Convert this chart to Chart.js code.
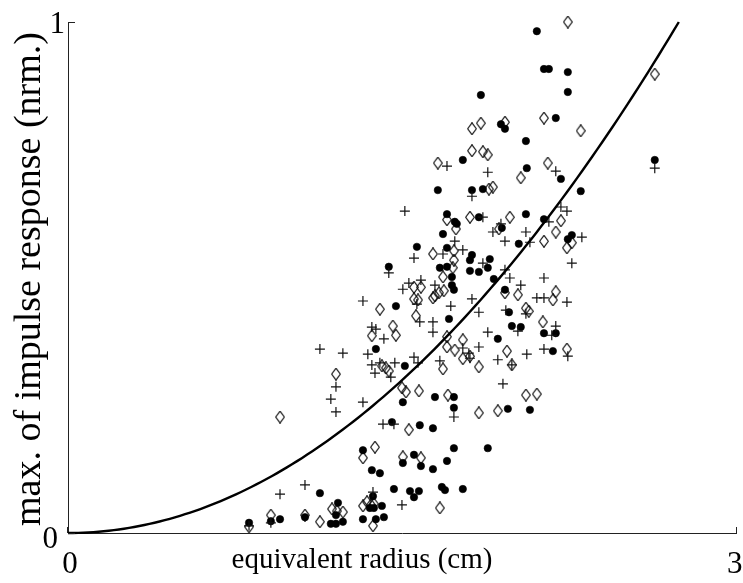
<!DOCTYPE html>
<html>
<head>
<meta charset="utf-8">
<script src="https://cdn.jsdelivr.net/npm/chart.js@4/dist/chart.umd.min.js"></script>
<style>
  html, body { margin: 0; padding: 0; background: #fff; }
  #plot { display: block; }
</style>
</head>
<body>
<canvas id="plot" width="743" height="583"></canvas>
<script>
// Axis ticks and labels
const xTicks = [0, 3];
const yTicks = [0, 1];
const xTitle = 'equivalent radius (cm)';
const yTitle = 'max. of impulse response (nrm.)';

// Filled circles
const dotX = [2.103,2.135,2.157,2.242,2.242,1.852,2.188,1.942,1.960,2.054,
  1.771,2.632,2.058,2.211,1.659,1.812,1.861,2.300,1.700,1.735,
  1.744,1.843,2.054,2.135,1.946,1.682,2.022,2.260,2.242,1.565,
  1.700,1.812,1.803,1.892,1.883,1.668,1.700,1.439,1.803,1.843,
  1.722,1.722,1.910,1.731,1.960,2.031,1.991,1.471,1.709,1.978,
  2.135,2.188,2.175,1.928,1.381,1.511,1.646,1.731,1.502,1.731,
  1.453,1.578,1.637,1.973,2.072,1.323,1.731,1.883,1.363,1.399,
  1.502,1.552,1.583,1.637,1.700,1.130,1.368,1.462,1.534,1.574,
  1.552,1.677,1.691,1.771,1.408,1.354,1.372,1.211,1.202,1.417,
  1.381,1.323,1.179,1.202,1.233,1.063,0.951,0.910,0.812];
const dotY = [0.982,0.908,0.908,0.902,0.863,0.857,0.812,0.800,0.791,0.767,
  0.730,0.730,0.714,0.693,0.671,0.671,0.673,0.669,0.624,0.609,
  0.605,0.618,0.624,0.614,0.597,0.585,0.566,0.583,0.575,0.560,
  0.558,0.544,0.534,0.536,0.519,0.519,0.521,0.521,0.513,0.511,
  0.501,0.485,0.497,0.476,0.476,0.403,0.405,0.444,0.419,0.432,
  0.391,0.391,0.356,0.380,0.360,0.327,0.266,0.266,0.256,0.245,
  0.217,0.211,0.205,0.243,0.241,0.162,0.166,0.166,0.123,0.117,
  0.137,0.153,0.131,0.125,0.141,0.078,0.072,0.086,0.082,0.082,
  0.070,0.090,0.084,0.086,0.053,0.049,0.049,0.059,0.035,0.031,
  0.027,0.027,0.018,0.018,0.022,0.031,0.027,0.023,0.020];

// Open diamonds
const diaX = [2.242,2.632,2.135,1.852,1.812,1.960,2.300,1.812,1.861,1.883,
  1.659,2.152,2.031,1.888,1.906,1.700,1.803,1.982,2.211,1.740,
  1.933,2.188,2.260,2.238,2.135,1.731,1.637,1.731,1.726,1.682,
  1.552,1.583,1.686,1.664,1.646,1.637,1.960,2.018,2.188,2.175,
  1.552,1.570,1.399,1.561,2.054,2.067,2.130,1.457,1.471,1.363,
  1.700,1.700,1.771,1.735,1.803,1.771,1.682,1.843,1.969,1.991,
  2.238,1.408,1.426,1.439,1.202,1.498,1.516,1.574,1.704,1.843,
  1.928,2.054,2.103,1.529,0.951,1.377,1.323,1.502,1.583,1.668,
  1.323,1.341,1.359,1.372,1.184,1.206,1.233,1.130,0.910,1.063,1.368,0.812];
const diaY = [1.000,0.898,0.812,0.802,0.791,0.804,0.787,0.748,0.746,0.740,
  0.724,0.724,0.695,0.673,0.677,0.613,0.618,0.618,0.611,0.595,
  0.595,0.589,0.568,0.558,0.571,0.552,0.546,0.534,0.519,0.501,
  0.481,0.481,0.474,0.470,0.464,0.460,0.470,0.466,0.472,0.456,
  0.458,0.456,0.438,0.425,0.440,0.434,0.413,0.405,0.387,0.386,
  0.384,0.364,0.378,0.358,0.346,0.341,0.321,0.325,0.356,0.329,
  0.360,0.327,0.323,0.317,0.311,0.284,0.276,0.278,0.270,0.235,
  0.239,0.270,0.272,0.202,0.227,0.168,0.147,0.149,0.147,0.049,
  0.053,0.061,0.055,0.057,0.047,0.043,0.041,0.022,0.035,0.035,0.014,0.012];

// Plus markers
const plusX = [2.632,1.700,1.883,2.188,1.812,1.511,1.861,2.211,2.238,2.157,
  1.942,1.906,2.054,2.305,1.735,1.960,2.072,1.771,1.682,1.552,
  1.861,2.260,1.439,1.960,1.982,2.135,1.583,1.529,1.646,2.031,
  1.502,2.103,2.135,2.238,1.565,1.717,1.812,1.843,1.964,2.054,
  1.578,1.637,1.637,1.323,1.363,1.381,1.417,1.883,2.018,2.188,
  2.170,1.130,1.233,1.345,1.771,1.843,1.798,1.668,1.552,1.570,
  1.363,1.399,1.466,1.377,1.448,1.928,2.058,2.135,2.242,1.202,
  1.179,1.202,1.323,1.951,1.731,1.413,1.462,0.951,1.063,1.368,
  1.498,0.910,0.812,1.991,1.803];
const plusY = [0.714,0.718,0.706,0.708,0.659,0.630,0.618,0.638,0.630,0.609,
  0.605,0.589,0.589,0.579,0.571,0.571,0.569,0.554,0.546,0.538,
  0.528,0.528,0.509,0.515,0.499,0.499,0.495,0.489,0.485,0.485,
  0.477,0.460,0.460,0.452,0.448,0.444,0.458,0.432,0.436,0.429,
  0.413,0.413,0.393,0.454,0.403,0.399,0.380,0.393,0.395,0.405,
  0.387,0.360,0.352,0.350,0.362,0.364,0.352,0.337,0.344,0.333,
  0.329,0.333,0.333,0.313,0.305,0.339,0.350,0.360,0.346,0.286,
  0.262,0.237,0.256,0.292,0.227,0.213,0.213,0.076,0.094,0.080,
  0.055,0.020,0.014,0.329,0.342];

// Quadratic fit: y = (x / fitRadius)^2, reaching 1 at x = fitRadius
const fitRadius = 2.74;
const fitSteps = 120;

const toPoints = (xs, ys) => xs.map((x, i) => ({ x, y: ys[i] }));
const fitCurve = [];
for (let i = 0; i <= fitSteps; i++) {
  const x = fitRadius * i / fitSteps;
  fitCurve.push({ x, y: (x / fitRadius) ** 2 });
}

// Hollow diamond marker, slightly taller than wide
function diamondMarker(w, h) {
  const c = document.createElement('canvas');
  c.width = w; c.height = h;
  const g = c.getContext('2d');
  g.strokeStyle = '#000';
  g.lineWidth = 1.1;
  g.beginPath();
  g.moveTo(w / 2, 0.6);
  g.lineTo(w - 0.6, h / 2);
  g.lineTo(w / 2, h - 0.6);
  g.lineTo(0.6, h / 2);
  g.closePath();
  g.stroke();
  return c;
}

const serif = '"Liberation Serif", "Times New Roman", serif';

// Tick labels, axis titles and the short inner tick marks
const axisText = {
  id: 'axisText',
  afterDraw(chart) {
    const { ctx, scales: { x, y } } = chart;
    const x0 = x.getPixelForValue(0), y0 = y.getPixelForValue(0);
    ctx.save();
    ctx.fillStyle = '#000';
    ctx.strokeStyle = '#222';
    ctx.lineWidth = 1;

    // inner tick marks
    ctx.beginPath();
    yTicks.forEach(v => {
      const py = Math.round(y.getPixelForValue(v)) + 0.5;
      ctx.moveTo(x0, py); ctx.lineTo(x0 + 7, py);
    });
    xTicks.forEach(v => {
      const px = Math.round(x.getPixelForValue(v)) - 0.5;
      ctx.moveTo(px, y0); ctx.lineTo(px, y0 - 6);
    });
    ctx.stroke();

    ctx.font = '31px ' + serif;
    ctx.textBaseline = 'alphabetic';
    // y tick labels
    ctx.textAlign = 'right';
    yTicks.forEach(v => {
      const py = y.getPixelForValue(v);
      if (v === 0) ctx.fillText(String(v), x0 - 10, py + 15);
      else ctx.fillText(String(v), x0 - 3, py + 11);
    });
    // x tick labels
    ctx.textAlign = 'center';
    xTicks.forEach((v, i) => {
      const px = x.getPixelForValue(v);
      ctx.fillText(String(v), i === 0 ? px + 2 : px - 2, y0 + 40);
    });

    // x title
    ctx.font = '29px ' + serif;
    ctx.textAlign = 'center';
    ctx.fillText(xTitle, 362, 568);

    // y title
    ctx.font = '38px ' + serif;
    ctx.translate(40, 279);
    ctx.rotate(-Math.PI / 2);
    ctx.fillText(yTitle, 0, 0);
    ctx.restore();
  }
};

const hiddenAxis = {
  grid: { display: false, drawTicks: false },
  ticks: { display: false },
  title: { display: false },
  border: { display: true, color: '#222', width: 1 },
  afterFit(s) {
    if (s.isHorizontal()) s.height = 0; else s.width = 0;
    s.paddingLeft = s.paddingRight = s.paddingTop = s.paddingBottom = 0;
  }
};

new Chart(document.getElementById('plot'), {
  type: 'scatter',
  data: {
    datasets: [
      {
        type: 'line',
        data: fitCurve,
        borderColor: '#000',
        borderWidth: 2.4,
        pointRadius: 0,
        fill: false,
        tension: 0,
        clip: false,
        order: 0
      },
      {
        data: toPoints(dotX, dotY),
        pointStyle: 'circle',
        pointRadius: 3.7,
        backgroundColor: '#000',
        borderColor: '#000',
        borderWidth: 0.6,
        clip: false,
        order: 3
      },
      {
        data: toPoints(diaX, diaY),
        pointStyle: diamondMarker(10, 13),
        pointRadius: 5,
        clip: false,
        order: 2
      },
      {
        data: toPoints(plusX, plusY),
        pointStyle: 'cross',
        pointRadius: 5,
        borderColor: '#111',
        borderWidth: 1.2,
        clip: false,
        order: 1
      }
    ]
  },
  options: {
    responsive: false,
    animation: false,
    devicePixelRatio: 1,
    layout: { padding: { left: 68, right: 6, top: 22, bottom: 50 } },
    plugins: { legend: { display: false }, tooltip: { enabled: false } },
    scales: {
      x: Object.assign({ type: 'linear', min: 0, max: 3 }, hiddenAxis),
      y: Object.assign({ type: 'linear', min: 0, max: 1 }, hiddenAxis)
    }
  },
  plugins: [axisText]
});
</script>
</body>
</html>
